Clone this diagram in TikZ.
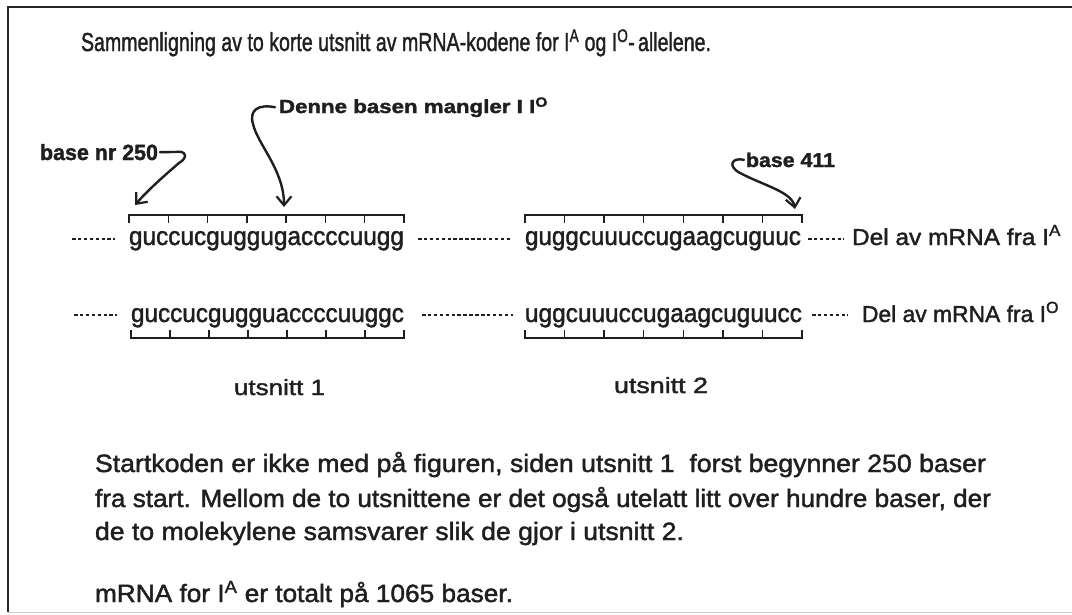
\documentclass[tikz,border=0pt]{standalone}
\usepackage{fontspec}
\setmainfont{Liberation Sans}[FakeBold=1.6]
\usetikzlibrary{arrows.meta}
\newlength\fitlen
\newcommand\fitw[2]{\settowidth\fitlen{#2}\scalebox{\fpeval{#1pt/\fitlen}}[1]{#2}}
\definecolor{ink}{gray}{0.12}
\begin{document}
\begin{tikzpicture}[x=1pt,y=-1pt,
  txt/.style={anchor=base west, inner sep=0pt, outer sep=0pt, text=ink},
  hand/.style={draw=ink, line width=2.4pt, line cap=round, line join=round,
    -{Straight Barb[length=9pt,width=15pt,line width=2.2pt]}},
  bar/.style={draw=ink, line width=2pt},
  tick/.style={draw=ink, line width=1.5pt},
  lead/.style={draw=ink, line width=1.9pt, dash pattern=on 3.5pt off 2.4pt},
  frame/.style={draw=black!85, line width=2pt}]
\useasboundingbox (0,0) rectangle (1072,614);
\fill[white] (0,0) rectangle (1072,614);
\draw[frame] (8,612) -- (8,7) -- (1072,7);
\draw[black!20, line width=1pt] (8,612) -- (1072,612);

% title
\node[txt, font=\fontsize{26}{30}\selectfont] (title) at (81,51)
  {\fitw{630}{Sammenligning av to korte utsnitt av mRNA-kodene for I\textsuperscript{A} og I\textsuperscript{O}-\,allelene.}};

% labels with arrows
\node[txt, font=\bfseries\fontsize{19}{22}\selectfont] (denne) at (279,113)
  {\fitw{269}{Denne basen mangler I I\textsuperscript{O}}};
\node[txt, font=\bfseries\fontsize{22}{26}\selectfont] (b250) at (40,160)
  {\fitw{118}{base nr 250}};
\node[txt, font=\bfseries\fontsize{20}{24}\selectfont] (b411) at (746,167)
  {\fitw{89}{base 411}};

% sequences
\node[txt, font=\fontsize{26}{30}\selectfont] (st1) at (129,245) {\fitw{275}{guccucguggugaccccuugg}};
\node[txt, font=\fontsize{26}{30}\selectfont] (st2) at (525,245) {\fitw{276}{guggcuuuccugaagcuguuc}};
\node[txt, font=\fontsize{23}{27}\selectfont] (delA) at (852,245) {\fitw{209}{Del av mRNA fra I\textsuperscript{A}}};
\node[txt, font=\fontsize{26}{30}\selectfont] (sb1) at (131,322) {\fitw{273}{guccucgugguaccccuuggc}};
\node[txt, font=\fontsize{26}{30}\selectfont] (sb2) at (525,322) {\fitw{277}{uggcuuuccugaagcuguucc}};
\node[txt, font=\fontsize{23}{27}\selectfont] (delO) at (862,322) {\fitw{197}{Del av mRNA fra I\textsuperscript{O}}};

\node[txt, font=\fontsize{22}{26}\selectfont] (u1) at (234,395) {\fitw{91}{utsnitt 1}};
\node[txt, font=\fontsize{22}{26}\selectfont] (u2) at (614,393) {\fitw{94}{utsnitt 2}};

% bars with ticks
\draw[bar] (129,215) -- (404,215);
\foreach \i in {0,...,7} \draw[tick] ({129+\i*275/7},214) -- ++(0,9);
\draw[bar] (525,215) -- (802,215);
\foreach \i in {0,...,7} \draw[tick] ({525+\i*277/7},214) -- ++(0,9);
\draw[bar] (131,338) -- (404,338);
\foreach \i in {0,...,7} \draw[tick] ({131+\i*273/7},339) -- ++(0,-9);
\draw[bar] (525,338) -- (802,338);
\foreach \i in {0,...,7} \draw[tick] ({525+\i*277/7},339) -- ++(0,-9);

% dashed leaders
\draw[lead] (72,239) -- (115,239);
\draw[lead] (418,239) -- (511,239);
\draw[lead] (808,239) -- (844,239);
\draw[lead] (74,315) -- (117,315);
\draw[lead] (422,315) -- (513,315);
\draw[lead] (812,315) -- (848,315);

% arrow targets
\coordinate (tipA) at (284,207);
\coordinate (tipB) at (135,205);
\coordinate (tipC) at (795,209);

\draw[hand] ([xshift=-4pt]denne.west) .. controls (258,104) and (249,110) .. (253,124)
  .. controls (258,145) and (284,170) .. (tipA);
\draw[hand] ([xshift=2pt]b250.east) -- (175,152) .. controls (187,150) and (188,158) .. (179,163)
  .. controls (165,175) and (148,190) .. (tipB);
\draw[hand] ([xshift=-2pt]b411.west) .. controls (732,157) and (727,166) .. (740,173)
  .. controls (765,186) and (792,192) .. (tipC);

% paragraph
\node[txt, font=\fontsize{25}{29}\selectfont] (p1) at (95,472)
  {\fitw{891}{Startkoden er ikke med på figuren, siden utsnitt 1 \ forst begynner 250 baser}};
\node[txt, font=\fontsize{25}{29}\selectfont] (p2) at (95,507)
  {\fitw{896}{fra start. Mellom de to utsnittene er det også utelatt litt over hundre baser, der}};
\node[txt, font=\fontsize{25}{29}\selectfont] (p3) at (95,540)
  {\fitw{589}{de to molekylene samsvarer slik de gjor i utsnitt 2.}};
\node[txt, font=\fontsize{25}{29}\selectfont] (p4) at (95,602)
  {\fitw{418}{mRNA for I\textsuperscript{A} er totalt på 1065 baser.}};
\end{tikzpicture}
\end{document}
